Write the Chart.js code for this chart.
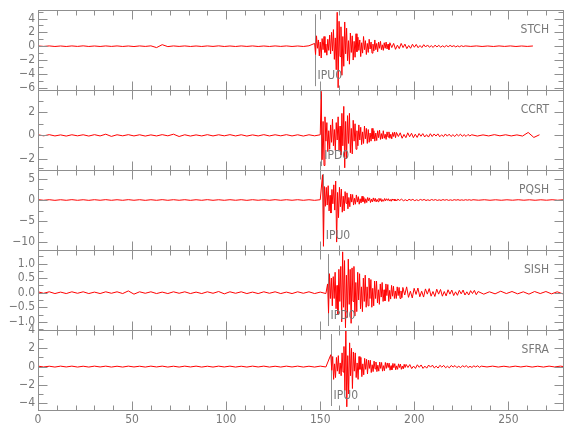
<!DOCTYPE html>
<html>
<head>
<meta charset="utf-8">
<script src="https://cdn.jsdelivr.net/npm/chart.js@4.4.1/dist/chart.umd.min.js"></script>
<style>
  html, body { margin: 0; background: #fff; }
  canvas { display: block; }
</style>
</head>
<body>
<canvas id="seis" width="580" height="440"></canvas>
<script>
// stations, top to bottom
const stations = ['STCH', 'CCRT', 'PQSH', 'SISH', 'SFRA'];
const scaleIds = ['stch', 'ccrt', 'pqsh', 'sish', 'sfra'];
const picks = [147, 150.5, 151.3, 153.9, 155.5];
const pickLabels = ['IPU0', 'IPD0', 'IPU0', 'IPD0', 'IPU0'];
const yMin = [-6.35, -3.0, -11.9, -1.28, -4.75];
const yMax = [5.2, 3.9, 7.1, 1.46, 4.0];

// tick labels
const xMajor = [0, 50, 100, 150, 200, 250];
const xMinor = [10, 20, 30, 40, 60, 70, 80, 90, 110, 120, 130, 140, 160, 170, 180, 190, 210, 220, 230, 240, 260, 270];
const yMajor = [
  [4, 2, 0, -2, -4, -6],
  [2, 0, -2],
  [5, 0, -5, -10],
  [1.0, 0.5, 0.0, -0.5, -1.0],
  [4, 2, 0, -2, -4]
];
const yMinor = [
  [5, 3, 1, -1, -3, -5],
  [3, 1, -1, -3],
  [7.5, 2.5, -2.5, -7.5],
  [1.25, 0.75, 0.25, -0.25, -0.75, -1.25],
  [3, 1, -1, -3]
];

// onset times (s) of the event windows
const onsets = [147, 150.5, 151.2, 153.9, 155.6];

// pre-event noise, one sample every 3 s from t = 0
const stchPre = [0.04,-0.03,0.04,-0.04,0.03,-0.04,0.04,-0.03,0.05,-0.04,0.03,-0.04,0.04,-0.03,0.04,-0.04,0.03,-0.05,0.04,-0.03,0.05,-0.2,0.22,-0.06,0.04,-0.03,0.04,-0.04,0.03,-0.04,0.04,-0.03,0.05,-0.04,0.03,-0.04,0.04,-0.03,0.04,-0.04,0.03,-0.04,0.04,-0.03,0.04,-0.04,0.03,-0.04,0.06];
const ccrtPre = [0.05,-0.04,0.06,-0.05,0.04,-0.06,0.05,-0.04,0.05,-0.06,0.06,-0.05,0.1,-0.09,0.05,-0.04,0.06,-0.05,0.05,-0.06,0.04,-0.05,0.06,-0.04,0.1,-0.1,0.05,-0.06,0.04,-0.05,0.06,-0.05,0.05,-0.04,0.06,-0.05,0.05,-0.06,0.04,-0.05,0.06,-0.05,0.05,-0.04,0.06,-0.05,0.05,-0.06,0.05,-0.04,0.05];
const pqshPre = [0.08,-0.06,0.07,-0.08,0.06,-0.07,0.08,-0.07,0.06,-0.08,0.07,-0.06,0.08,-0.07,0.06,-0.07,0.08,-0.06,0.07,-0.08,0.06,-0.07,0.08,-0.07,0.07,-0.06,0.07,-0.08,0.06,-0.07,0.08,-0.07,0.06,-0.07,0.07,-0.06,0.07,-0.08,0.07,-0.06,0.06,-0.07,0.08,-0.07,0.07,-0.06,0.07,-0.07,0.06,-0.08,0.07];
const sishPre = [0.03,-0.02,0.03,-0.03,0.02,-0.03,0.03,-0.02,0.03,-0.03,0.02,-0.03,0.03,-0.02,0.03,-0.03,0.06,-0.05,0.03,-0.02,0.03,-0.03,0.02,-0.03,0.03,-0.02,0.03,-0.03,0.02,-0.03,0.03,-0.02,0.04,-0.04,0.03,-0.02,0.03,-0.03,0.02,-0.03,0.03,-0.02,0.03,-0.03,0.02,-0.03,0.03,-0.02,0.03,-0.03,0.02,-0.03];
const sfraPre = [0.05,-0.04,0.04,-0.05,0.05,-0.04,0.05,-0.05,0.04,-0.05,0.05,-0.04,0.05,-0.05,0.04,-0.05,0.05,-0.04,0.04,-0.05,0.05,-0.04,0.05,-0.05,0.04,-0.05,0.05,-0.04,0.05,-0.05,0.04,-0.05,0.05,-0.04,0.05,-0.05,0.04,-0.05,0.05,-0.04,0.05,-0.05,0.04,-0.05,0.05,-0.04,0.05,-0.05,0.04,-0.05,0.05,-0.04];

// event window, one sample every 0.5 s from onset
const stchEvent = [0.4,-1.2,1.5,-0.3,0.9,-1.4,0.6,-1.7,1.1,-0.5,1.4,-0.9,0.3,-1.3,1.0,-0.6,1.6,-1.1,2.0,-0.7,2.4,-1.9,1.2,-3.4,4.9,-6.0,3.6,-1.5,2.8,-4.2,1.4,-2.9,3.5,-1.1,2.6,-2.1,0.8,-2.6,1.9,-0.9,1.5,-2.0,0.7,-1.6,1.8,-0.8,1.3,-0.6,0.9,-1.5,0.5,-1.0,1.4,-0.5,0.8,-1.2,0.4,-0.9,1.0,-0.4,0.6,-1.0,0.3,-0.7,0.9,-0.5,0.4,-0.8,0.6,-0.3,0.7,-0.5,0.2,-0.6,0.5,-0.3,0.6,-0.4,0.3,-0.5];
const ccrtEvent = [3.8,-2.1,1.2,-2.6,1.6,-0.5,1.1,-1.4,0.4,-1.2,0.9,-0.6,1.4,-0.9,0.5,-1.3,1.1,-0.4,1.6,-1.3,0.8,-1.7,1.9,-0.9,2.5,-2.8,1.2,-2.0,1.7,-0.7,1.9,-1.5,0.6,-1.6,1.3,-0.5,1.0,-1.2,0.4,-0.9,0.9,-0.4,0.7,-0.8,0.3,-0.7,0.8,-0.3,0.6,-0.7,0.5,-0.6,0.2,-0.5,0.6,-0.3,0.4,-0.5,0.2,-0.45,0.4,-0.2,0.45,-0.35,0.15,-0.3,0.4,-0.25,0.1,-0.35,0.3,-0.15,0.3,-0.25,0.1,-0.3,0.25,-0.1,0.28,-0.2];
const pqshEvent = [6.0,-11.0,3.2,-1.5,3.0,-1.2,3.4,-2.6,1.1,-3.1,2.5,-0.9,3.6,-2.4,4.5,-10.0,1.8,-4.2,3.0,-1.6,2.6,-2.9,0.9,-2.6,2.0,-0.8,1.7,-2.1,0.6,-1.6,1.4,-0.5,1.3,-1.2,0.4,-1.0,1.2,-0.5,0.8,-1.0,0.3,-0.7,0.9,-0.4,0.6,-0.8,0.3,-0.6,0.6,-0.2,0.5,-0.6,0.2,-0.45,0.5,-0.3,0.4,-0.45,0.15,-0.4,0.4,-0.2,0.35,-0.4,0.1,-0.3,0.35,-0.2,0.3,-0.1,0.3,-0.25,0.12,-0.3,0.25,-0.1,0.22,-0.22,0.08,-0.2];
const sishEvent = [0.3,-0.7,0.65,-0.2,0.5,-0.45,0.55,-0.2,0.7,-0.55,0.25,-0.75,0.8,-0.3,0.9,-1.0,1.4,-0.5,1.1,-1.2,0.6,-0.85,1.15,-0.4,0.8,-1.05,0.85,-0.3,0.9,-0.8,0.35,-0.65,0.7,-0.25,0.65,-0.55,0.2,-0.65,0.5,-0.3,0.6,-0.5,0.2,-0.45,0.5,-0.2,0.45,-0.5,0.15,-0.45,0.4,-0.2,0.4,-0.35,0.1,-0.4,0.3,-0.15,0.35,-0.3,0.1,-0.28,0.3,-0.1,0.28,-0.3,0.08,-0.22,0.25,-0.12,0.22,-0.2,0.06,-0.2,0.2,-0.1,0.18,-0.2,0.06,-0.17];
const sfraEvent = [1.3,-0.4,1.1,-1.4,0.3,-1.2,1.0,-0.5,1.2,-0.8,0.4,-1.0,1.5,-0.6,2.2,-2.6,4.0,-4.4,1.2,-3.0,2.6,-1.0,2.0,-2.4,1.6,-0.5,1.5,-1.2,0.4,-1.4,1.1,-0.3,1.0,-1.1,0.3,-0.9,0.9,-0.3,0.8,-0.8,0.7,-0.2,0.7,-0.65,0.2,-0.55,0.6,-0.25,0.5,-0.55,0.15,-0.5,0.5,-0.2,0.45,-0.5,0.1,-0.45,0.45,-0.2,0.4,-0.1,0.38,-0.4,0.1,-0.35,0.35,-0.12,0.32,-0.35,0.08,-0.3,0.3,-0.1,0.28,-0.3,0.06,-0.25,0.25,-0.1];

// coda, one sample every 1 s from onset + 40 s
const stchCoda = [0.5,-0.2,0.4,-0.45,0.15,-0.35,0.4,-0.2,0.3,-0.35,0.1,-0.3,0.28,-0.15,0.25,-0.22,0.1,-0.2,0.22,-0.12,0.18,-0.15,0.08,-0.18,0.15,-0.1,0.12,-0.14,0.06,-0.12,0.1,-0.08,0.12,-0.06,0.08,-0.1,0.05,-0.08,0.07,-0.05];
const ccrtCoda = [0.25,-0.1,0.22,-0.25,0.08,-0.2,0.22,-0.12,0.18,-0.2,0.1,-0.18,0.16,-0.08,0.15,-0.14,0.06,-0.15,0.14,-0.1,0.12,-0.06,0.13,-0.12,0.05,-0.11,0.12,-0.07,0.1,-0.1,0.06,-0.1,0.09,-0.05,0.1,-0.08,0.06,-0.09,0.08,-0.05];
const pqshCoda = [0.2,-0.1,0.2,-0.18,0.06,-0.18,0.16,-0.08,0.15,-0.16,0.06,-0.14,0.14,-0.06,0.13,-0.12,0.05,-0.12,0.12,-0.06,0.1,-0.1,0.04,-0.1,0.1,-0.05,0.09,-0.09,0.04,-0.09,0.08,-0.04,0.08,-0.07,0.04,-0.07,0.07,-0.04,0.06,-0.06];
const sishCoda = [0.18,-0.08,0.2,-0.16,0.05,-0.18,0.15,-0.06,0.16,-0.14,0.05,-0.15,0.13,-0.05,0.14,-0.12,0.04,-0.13,0.12,-0.05,0.11,-0.12,0.04,-0.11,0.1,-0.05,0.09,-0.1,0.03,-0.09,0.08,-0.04,0.09,-0.08,0.03,-0.08,0.07,-0.03,0.08,-0.07];
const sfraCoda = [0.24,-0.1,0.22,-0.22,0.06,-0.2,0.2,-0.08,0.18,-0.2,0.05,-0.17,0.17,-0.06,0.16,-0.15,0.05,-0.16,0.14,-0.06,0.13,-0.13,0.04,-0.14,0.12,-0.05,0.11,-0.11,0.04,-0.12,0.1,-0.04,0.1,-0.1,0.03,-0.09,0.08,-0.04,0.09,-0.08];

// tail, one sample every 3 s from onset + 80 s
const stchTail = [0.04,-0.03,0.04,-0.04,0.03,-0.04,0.04,-0.03,0.04,-0.04,0.03,-0.03,0.03];
const ccrtTail = [0.05,-0.06,0.04,-0.05,0.06,-0.04,0.05,-0.05,0.04,-0.06,0.25,-0.18,0.05];
const pqshTail = [0.06,-0.05,0.06,-0.06,0.05,-0.06,0.05,-0.05,0.06,-0.05,0.05,-0.06,0.05,-0.05,0.06,-0.05,0.05];
const sishTail = [0.04,-0.05,0.03,-0.04,0.05,-0.03,0.04,-0.04,0.03,-0.05,0.04,-0.03,0.04,-0.04,0.03,-0.04];
const sfraTail = [0.05,-0.04,0.05,-0.05,0.04,-0.05,0.05,-0.04,0.05,-0.05,0.04,-0.05,0.05,-0.04,0.05,-0.04];

const pre = [stchPre, ccrtPre, pqshPre, sishPre, sfraPre];
const events = [stchEvent, ccrtEvent, pqshEvent, sishEvent, sfraEvent];
const codas = [stchCoda, ccrtCoda, pqshCoda, sishCoda, sfraCoda];
const tails = [stchTail, ccrtTail, pqshTail, sishTail, sfraTail];

const axisGray = '#8f8f8f';
const textGray = '#787878';
const fontFamily = '"Liberation Sans Narrow", "DejaVu Sans Condensed", "Liberation Sans", sans-serif';

function tracePoints(k) {
  const pts = [];
  pre[k].forEach((v, i) => pts.push({ x: i * 3, y: v }));
  events[k].forEach((v, i) => pts.push({ x: onsets[k] + i * 0.5, y: v }));
  codas[k].forEach((v, i) => pts.push({ x: onsets[k] + 40 + i, y: v }));
  tails[k].forEach((v, i) => pts.push({ x: onsets[k] + 80 + i * 3, y: v }));
  return pts;
}

function fmt(v, k) {
  const s = k === 3 ? Math.abs(v).toFixed(1) : String(Math.abs(v));
  return v < 0 ? '\u2212' + s : s;
}

const scales = {
  x: {
    type: 'linear', position: 'bottom', min: 0, max: 279,
    grid: { display: false, drawTicks: false }, border: { display: false },
    afterBuildTicks: s => { s.ticks = xMajor.map(v => ({ value: v })); },
    afterFit: s => { s.height = 30; },
    ticks: { color: textGray, padding: 3, autoSkip: false, maxRotation: 0,
             font: { family: fontFamily, size: 12 } }
  }
};
// stacked y axes; the last one added sits on top of the stack
for (let k = scaleIds.length - 1; k >= 0; k--) {
  scales[scaleIds[k]] = {
    type: 'linear', position: 'left', stack: 'traces', stackWeight: 1,
    min: yMin[k], max: yMax[k],
    grid: { display: false, drawTicks: false }, border: { display: false },
    afterBuildTicks: s => { s.ticks = yMajor[k].map(v => ({ value: v })); },
    afterFit: s => { s.width = 38; },
    ticks: { color: textGray, padding: 3, autoSkip: false,
             font: { family: fontFamily, size: 12 },
             callback: v => fmt(v, k) }
  };
}

function seg(ctx, x0, y0, x1, y1) {
  ctx.beginPath(); ctx.moveTo(x0, y0); ctx.lineTo(x1, y1); ctx.stroke();
}

const framePlugin = {
  id: 'frame',
  beforeDatasetsDraw(chart) {
    const ctx = chart.ctx, xs = chart.scales.x;
    ctx.save();
    ctx.strokeStyle = axisGray; ctx.lineWidth = 1;
    scaleIds.forEach((id, k) => {
      const ys = chart.scales[id];
      const px = Math.round(xs.getPixelForValue(picks[k])) + 0.5;
      seg(ctx, px, ys.top + 4, px, ys.bottom - 4);
    });
    ctx.restore();
  },
  afterDatasetsDraw(chart) {
    const ctx = chart.ctx, a = chart.chartArea, xs = chart.scales.x;
    const L = Math.round(a.left) + 0.5, R = Math.round(a.right) + 0.5;
    ctx.save();
    ctx.strokeStyle = axisGray; ctx.lineWidth = 1;
    scaleIds.forEach((id, k) => {
      const ys = chart.scales[id];
      const T = Math.round(ys.top) + 0.5, B = Math.round(ys.bottom) + 0.5;
      ctx.strokeRect(L, T, R - L, B - T);
      // x ticks on top and bottom of each panel
      [[xMajor, 9], [xMinor, 5]].forEach(([vals, len]) => {
        vals.forEach(v => {
          const px = Math.round(xs.getPixelForValue(v)) + 0.5;
          seg(ctx, px, T, px, T + len);
          seg(ctx, px, B, px, B - len);
        });
      });
      // y ticks on left and right
      [[yMajor[k], 9], [yMinor[k], 5]].forEach(([vals, len]) => {
        vals.forEach(v => {
          const py = Math.round(ys.getPixelForValue(v)) + 0.5;
          seg(ctx, L, py, L + len, py);
          seg(ctx, R, py, R - len, py);
        });
      });
      // texts
      ctx.fillStyle = textGray;
      ctx.font = '12px ' + fontFamily;
      ctx.textBaseline = 'middle';
      ctx.textAlign = 'right';
      ctx.fillText(stations[k], a.right - 14, ys.top + (ys.bottom - ys.top) * 0.25);
      ctx.textAlign = 'left';
      ctx.fillText(pickLabels[k], xs.getPixelForValue(picks[k]) + 3, ys.top + (ys.bottom - ys.top) * 0.82);
    });
    ctx.restore();
  }
};

new Chart(document.getElementById('seis').getContext('2d'), {
  type: 'line',
  data: {
    datasets: scaleIds.map((id, k) => ({
      label: stations[k],
      data: tracePoints(k),
      xAxisID: 'x',
      yAxisID: id,
      borderColor: '#ff0000',
      borderWidth: 1,
      pointRadius: 0,
      tension: 0
    }))
  },
  options: {
    responsive: false,
    animation: false,
    layout: { padding: { top: 5, right: 17, left: 0, bottom: 0 } },
    plugins: { legend: { display: false }, tooltip: { enabled: false } },
    scales: scales
  },
  plugins: [framePlugin]
});
</script>
</body>
</html>
